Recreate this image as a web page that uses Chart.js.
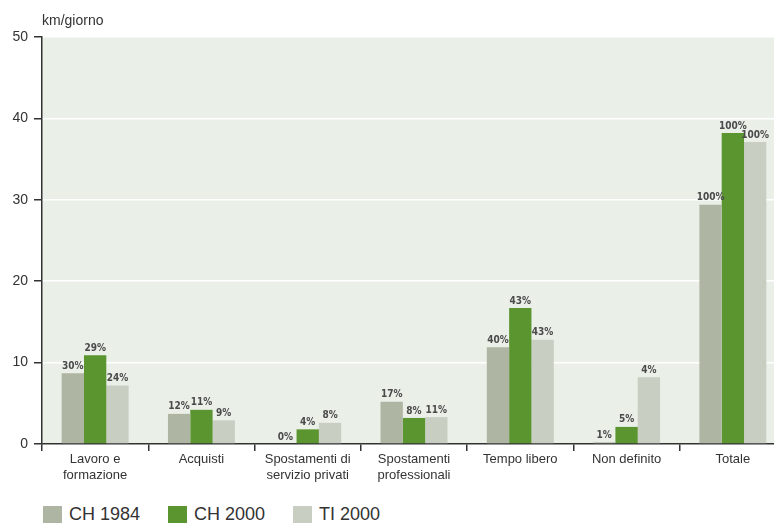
<!DOCTYPE html>
<html>
<head>
<meta charset="utf-8">
<script src="https://cdn.jsdelivr.net/npm/chart.js@4/dist/chart.umd.min.js"></script>
<style>
  body { margin: 0; background: #fff; font-family: "Liberation Sans", Arial, sans-serif; }
  #wrap { position: relative; width: 774px; height: 524px; overflow: hidden; }
  #legend { position: absolute; left: 43px; top: 504px; display: flex; align-items: center; color: #333; font-size: 18px; }
  .item { display: flex; align-items: center; margin-right: 28px; }
  .box { width: 19px; height: 17px; margin-right: 7px; }
</style>
</head>
<body>
<div id="wrap">
  <!-- la tela è un po' più larga: l'ultimo gruppo esce oltre il bordo destro -->
  <canvas id="grafico" width="786" height="490"></canvas>
  <div id="legend"></div>
</div>
<script>
// Categorie e serie (km/giorno)
const categorie = [
  ["Lavoro e", "formazione"],
  ["Acquisti"],
  ["Spostamenti di", "servizio privati"],
  ["Spostamenti", "professionali"],
  ["Tempo libero"],
  ["Non definito"],
  ["Totale"]
];
const ch1984 = [8.7, 3.7, 0, 5.2, 11.9, 0.2, 29.4];
const ch2000 = [10.9, 4.2, 1.8, 3.2, 16.7, 2.1, 38.2];
const ti2000 = [7.2, 2.9, 2.6, 3.3, 12.8, 8.2, 37.1];

// Quote percentuali scritte sopra le barre
const quote1984 = ["30%", "12%", "0%", "17%", "40%", "1%", "100%"];
const quote2000 = ["29%", "11%", "4%", "8%", "43%", "5%", "100%"];
const quoteTI = ["24%", "9%", "8%", "11%", "43%", "4%", "100%"];

const yTicks = [0, 10, 20, 30, 40, 50];

const serie = [
  { label: "CH 1984", data: ch1984, color: "#aeb6a3", quote: quote1984 },
  { label: "CH 2000", data: ch2000, color: "#5b9530", quote: quote2000 },
  { label: "TI 2000", data: ti2000, color: "#c9cec3", quote: quoteTI }
];

// sfondo dell'area del grafico
const sfondo = {
  id: "sfondo",
  beforeDraw(chart) {
    const a = chart.chartArea;
    const ctx = chart.ctx;
    ctx.save();
    ctx.fillStyle = "#eaefe8";
    ctx.fillRect(a.left, a.top, a.right - a.left, a.bottom - a.top);
    ctx.restore();
  }
};

// percentuali sopra le barre + unità dell'asse
const etichette = {
  id: "etichette",
  afterDatasetsDraw(chart) {
    const ctx = chart.ctx;
    ctx.save();
    ctx.font = "bold 10px 'DejaVu Sans Condensed', sans-serif";
    ctx.fillStyle = "#4a4a4a";
    ctx.textAlign = "center";
    ctx.textBaseline = "bottom";
    chart.data.datasets.forEach((ds, i) => {
      chart.getDatasetMeta(i).data.forEach((bar, j) => {
        ctx.fillText(serie[i].quote[j], bar.x, bar.y - 2);
      });
    });
    ctx.font = "14px 'Liberation Sans', Arial, sans-serif";
    ctx.fillStyle = "#333";
    ctx.textAlign = "left";
    ctx.textBaseline = "middle";
    ctx.fillText("km/giorno", 42, 21);
    ctx.restore();
  }
};

new Chart(document.getElementById("grafico"), {
  type: "bar",
  data: {
    labels: categorie,
    datasets: serie.map((s) => ({
      label: s.label,
      data: s.data,
      backgroundColor: s.color,
      borderWidth: 0,
      categoryPercentage: 0.63,
      barPercentage: 1.0
    }))
  },
  options: {
    responsive: false,
    animation: false,
    devicePixelRatio: 1,
    layout: { padding: { top: 37, right: 0, left: 0, bottom: 0 } },
    plugins: { legend: { display: false }, tooltip: { enabled: false } },
    scales: {
      x: {
        grid: { offset: true, drawOnChartArea: false, tickColor: "#333", tickLength: 7, lineWidth: 1.5 },
        border: { color: "#333", width: 1.5 },
        ticks: { color: "#333", font: { size: 13, family: "'Liberation Sans', Arial, sans-serif" }, padding: 1, maxRotation: 0, autoSkip: false },
        afterFit: (s) => { s.height = 46; }
      },
      y: {
        min: 0,
        max: 50,
        afterBuildTicks: (s) => { s.ticks = yTicks.map((v) => ({ value: v })); },
        grid: {
          color: (c) => (c.tick && c.tick.value === 0 ? "rgba(0,0,0,0)" : "#ffffff"),
          lineWidth: 1.5,
          tickColor: "#333",
          tickLength: 8
        },
        border: { color: "#333", width: 1.5 },
        ticks: { color: "#333", font: { size: 14, family: "'Liberation Sans', Arial, sans-serif" }, padding: 6 },
        afterFit: (s) => { s.width = 42; }
      }
    }
  },
  plugins: [sfondo, etichette]
});

// legenda
const legend = document.getElementById("legend");
serie.forEach((s) => {
  const item = document.createElement("div");
  item.className = "item";
  item.innerHTML = '<span class="box" style="background:' + s.color + '"></span><span>' + s.label + "</span>";
  legend.appendChild(item);
});
</script>
</body>
</html>
